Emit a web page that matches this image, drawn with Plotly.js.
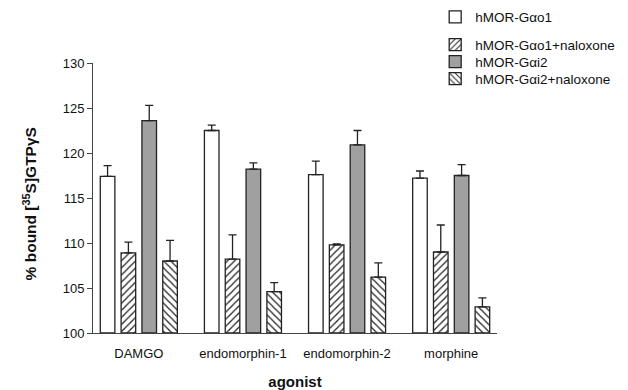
<!DOCTYPE html>
<html>
<head>
<meta charset="utf-8">
<script src="https://cdn.plot.ly/plotly-3.0.1.min.js"></script>
<style>html,body{margin:0;padding:0;background:#fff;}#chart{width:628px;height:390px;}</style>
</head>
<body>
<div id="chart"></div>
<script>
const categories = ["DAMGO", "endomorphin-1", "endomorphin-2", "morphine"];
const seriesNames = ["hMOR-Gαo1", "hMOR-Gαo1+naloxone", "hMOR-Gαi2", "hMOR-Gαi2+naloxone"];
const gao1 = [117.4, 122.5, 117.6, 117.2];
const gao1Err = [1.2, 0.6, 1.5, 0.8];
const gao1Nal = [108.9, 108.2, 109.8, 109.0];
const gao1NalErr = [1.2, 2.7, 0.1, 3.0];
const gai2 = [123.6, 118.2, 120.9, 117.5];
const gai2Err = [1.7, 0.7, 1.6, 1.2];
const gai2Nal = [108.0, 104.6, 106.2, 102.9];
const gai2NalErr = [2.3, 1.0, 1.6, 1.0];
const yTicks = [100, 105, 110, 115, 120, 125, 130];

const xIdx = categories.map((c, i) => i);
const values = [gao1, gao1Nal, gai2, gai2Nal];
const errs = [gao1Err, gao1NalErr, gai2Err, gai2NalErr];
const styles = [
  {color: "#ffffff", pattern: {shape: ""}},
  {color: "#ffffff", pattern: {shape: "/", fgcolor: "#222", size: 5, solidity: 0.25}},
  {color: "#a0a0a0", pattern: {shape: ""}},
  {color: "#ffffff", pattern: {shape: "\\", fgcolor: "#222", size: 5, solidity: 0.25}}
];
const legendIds = ["legend", "legend2", "legend3", "legend4"];
const legendY = [1.170, 1.067, 1.004, 0.941];

const traces = values.map((v, k) => ({
  type: "bar",
  name: seriesNames[k],
  x: xIdx,
  y: v.map(val => val - 100),
  base: 100,
  legend: legendIds[k],
  marker: {color: styles[k].color, pattern: styles[k].pattern, line: {color: "#222", width: 1.3}},
  error_y: {type: "data", symmetric: false, array: errs[k], arrayminus: errs[k].map(() => 0), color: "#222", thickness: 1.3, width: 4}
}));

const layout = {
  width: 628, height: 390,
  margin: {l: 93, r: 131, t: 63, b: 57, autoexpand: false},
  paper_bgcolor: "#fff", plot_bgcolor: "#fff",
  font: {family: "Liberation Sans, Arial, sans-serif", color: "#111", size: 13},
  barmode: "group", bargap: 0.2, bargroupgap: 0.3,
  showlegend: true,
  xaxis: {
    range: [-0.44, 3.44], tickmode: "array", tickvals: xIdx, ticktext: categories,
    showline: true, linecolor: "#444", linewidth: 1, ticks: "", showgrid: false, zeroline: false,
    ticklabelstandoff: 8,
    tickfont: {size: 13, color: "#111"},
    title: {text: "agonist", font: {size: 15, color: "#111", weight: "bold"}, standoff: 16}
  },
  yaxis: {
    range: [100, 130], tickmode: "array", tickvals: yTicks,
    showline: true, linecolor: "#444", linewidth: 1, ticks: "outside", ticklen: 5, tickcolor: "#444",
    showgrid: false, zeroline: false, tickfont: {size: 13, color: "#111"}
  },
  annotations: [{
    text: "% bound [<sup>35</sup>S]GTPγS", textangle: -90, showarrow: false,
    xref: "paper", yref: "paper", x: -0.156, y: 0.48, xanchor: "center", yanchor: "middle",
    font: {size: 15.5, color: "#111", weight: "bold"}
  }]
};
legendIds.forEach((id, k) => {
  layout[id] = {x: 0.847, y: legendY[k], xanchor: "left", yanchor: "middle", xref: "paper", yref: "paper",
    font: {size: 13.5, color: "#111"}, bgcolor: "rgba(0,0,0,0)"};
});

Plotly.newPlot("chart", traces, layout, {displayModeBar: false, staticPlot: true});
</script>
</body>
</html>
